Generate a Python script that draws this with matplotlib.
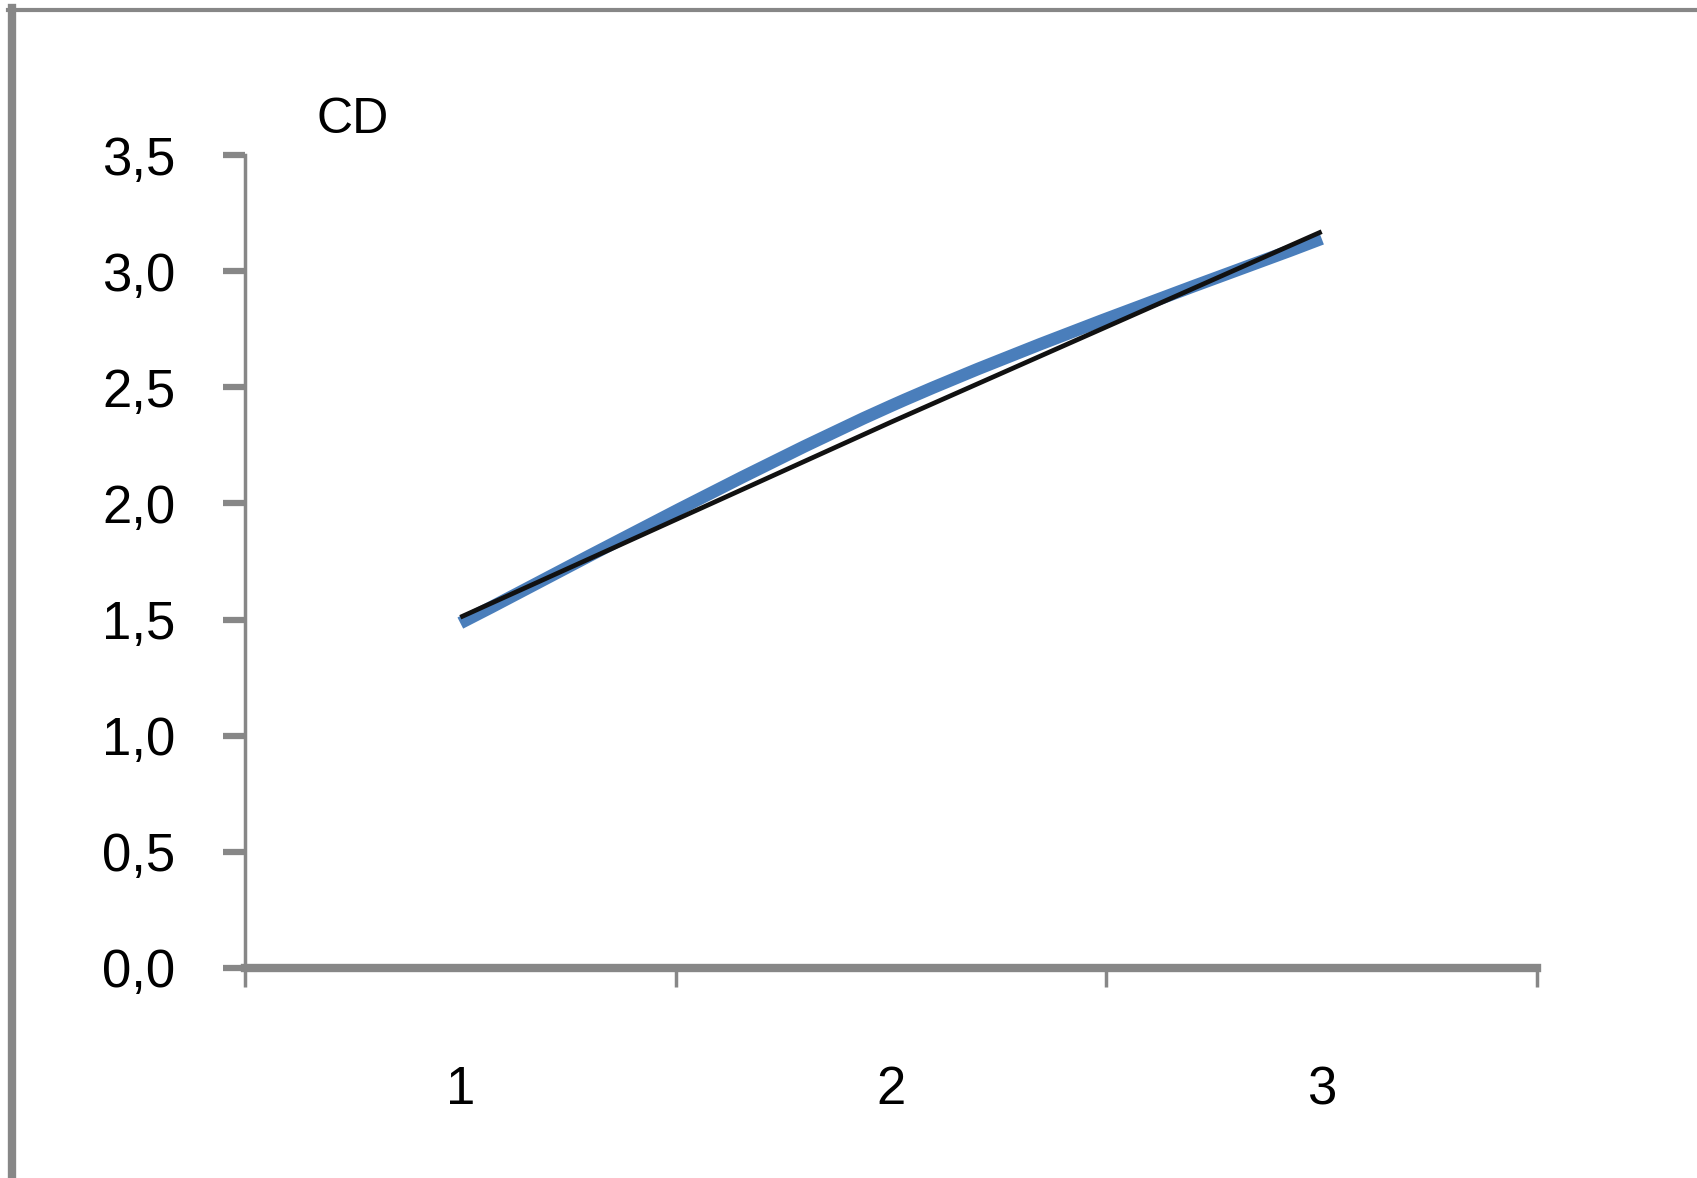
import matplotlib
matplotlib.use("Agg")
import matplotlib.pyplot as plt
import numpy as np
from matplotlib.path import Path
from matplotlib.patches import PathPatch
from matplotlib.lines import Line2D

categories = ["1", "2", "3"]
x_pos = [1, 2, 3]
blue_values = [1.485, 2.42, 3.14]
black_values = [1.51, 2.35, 3.17]
y_ticks = [0.0, 0.5, 1.0, 1.5, 2.0, 2.5, 3.0, 3.5]
y_labels = ["0,0", "0,5", "1,0", "1,5", "2,0", "2,5", "3,0", "3,5"]
title = "CD"

W, H = 1697, 1178
fig = plt.figure(figsize=(W / 100, H / 100), dpi=100)
ax = fig.add_axes([245 / W, 210 / H, (1537 - 245) / W, (968 - 155) / H])

grey = "#878787"
font = "Liberation Sans"


def smooth_path(xs, ys, t=1 / 6):
    pts = np.column_stack([xs, ys]).astype(float)
    n = len(pts)
    verts = [pts[0]]
    codes = [Path.MOVETO]
    for i in range(n - 1):
        p0 = pts[i - 1] if i > 0 else pts[i]
        p1 = pts[i]
        p2 = pts[i + 1]
        p3 = pts[i + 2] if i + 2 < n else pts[i + 1]
        c1 = p1 + (p2 - p0) * t
        c2 = p2 - (p3 - p1) * t
        verts += [c1, c2, p2]
        codes += [Path.CURVE4] * 3
    return Path(verts, codes)


blue_patch = PathPatch(smooth_path(x_pos, blue_values), facecolor="none",
                       edgecolor="#4A7EBB", linewidth=9.0, capstyle="butt", zorder=3)
ax.add_patch(blue_patch)
ax.plot(x_pos, black_values, color="#111111", linewidth=3.4, zorder=4,
        solid_capstyle="butt")

ax.set_xlim(0.5, 3.5)
ax.set_ylim(0, 3.5)

ax.set_yticks(y_ticks)
ax.set_yticklabels(y_labels, fontfamily=font, fontsize=38)
ax.set_xticks([0.5, 1.5, 2.5, 3.5])
ax.set_xticklabels([])
ax.set_xticks(x_pos, minor=True)
ax.set_xticklabels(categories, minor=True, fontfamily=font, fontsize=38)

ax.tick_params(axis="y", direction="out", length=16, width=4.5, color=grey, pad=34)
ax.tick_params(axis="x", which="major", direction="out", length=14, width=2.5, color=grey)
ax.tick_params(axis="x", which="minor", length=0, pad=70)

for s in ["top", "right"]:
    ax.spines[s].set_visible(False)
ax.spines["left"].set_color(grey)
ax.spines["left"].set_linewidth(2.5)
ax.spines["bottom"].set_color(grey)
ax.spines["bottom"].set_linewidth(6)

ax.text(0.75, 3.55, title, fontfamily=font, fontsize=36, ha="center", va="bottom")

# outer chart frame (left and top edges visible)
fig.add_artist(Line2D([12 / W, 12 / W], [0, 1 - 8 / H], transform=fig.transFigure,
                      color=grey, linewidth=6))
fig.add_artist(Line2D([8 / W, 1], [1 - 10 / H, 1 - 10 / H], transform=fig.transFigure,
                      color=grey, linewidth=3))

fig.savefig("out.png", dpi=100)
